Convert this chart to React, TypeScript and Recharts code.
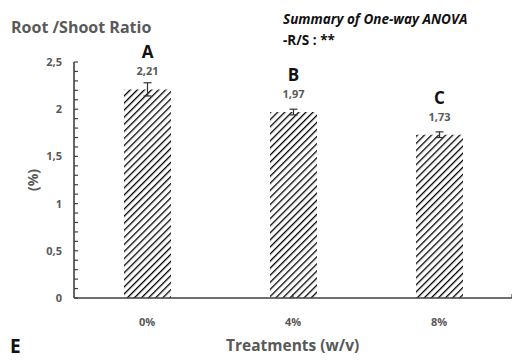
import React from 'react';
import { BarChart, Bar, XAxis, YAxis, ErrorBar, LabelList, ReferenceLine } from 'recharts';

const categories = ['0%', '4%', '8%'];
const ratioValues = [2.21, 1.97, 1.73];
const errorValues = [0.07, 0.03, 0.03];
const groupLetters = ['A', 'B', 'C'];
const yMinorTicks = [0, 0.1, 0.2, 0.3, 0.4, 0.5, 0.6, 0.7, 0.8, 0.9, 1, 1.1, 1.2, 1.3, 1.4, 1.5, 1.6, 1.7, 1.8, 1.9, 2, 2.1, 2.2, 2.3, 2.4, 2.5];
const yLabelTicks = [0, 0.5, 1, 1.5, 2, 2.5];
const xSeparatorTicks = [1, 2];

const data = categories.map((c, i) => ({
  name: c,
  value: ratioValues[i],
  err: errorValues[i],
  letter: groupLetters[i],
}));

const FONT = '"Open Sans", "DejaVu Sans", sans-serif';
const GRAY = '#595959';
const AXIS = '#404040';

const fmt = (v: number) => String(v).replace('.', ',');

const BarLabels = (props: any) => {
  const { x, y, width, index } = props;
  const cx = x + width / 2;
  return (
    <g>
      <text x={cx} y={y - 31} textAnchor="middle" fill="#111" fontSize={17} fontWeight={700} fontFamily={FONT}>
        {groupLetters[index]}
      </text>
      <text x={cx} y={y - 14} textAnchor="middle" fill={GRAY} fontSize={11} fontWeight={700} fontFamily={FONT}>
        {ratioValues[index].toFixed(2).replace('.', ',')}
      </text>
    </g>
  );
};

const MinorTickShape = (props: any) => {
  const x1 = Math.min(props.x1, props.x2);
  const y = props.y1;
  return <line x1={x1} x2={x1 + 4} y1={y} y2={y} stroke={AXIS} strokeWidth={1.2} />;
};

const SepTickShape = (props: any) => {
  const yb = Math.max(props.y1, props.y2);
  const x = props.x1;
  return <line x1={x} x2={x} y1={yb - 4} y2={yb} stroke={AXIS} strokeWidth={1.2} />;
};

export default function App() {
  return (
    <div style={{ position: 'absolute', left: 0, top: 0, width: 512, height: 361, background: '#fff', fontFamily: FONT }}>
      <svg width={0} height={0} style={{ position: 'absolute' }}>
        <defs>
          <pattern id="hatch" patternUnits="userSpaceOnUse" width={5} height={5} patternTransform="rotate(45)">
            <line x1={0} y1={0} x2={0} y2={5} stroke="#000" strokeWidth={2.6} />
          </pattern>
        </defs>
      </svg>
      <BarChart width={512} height={361} data={data} margin={{ top: 62, right: 0, left: 0, bottom: 33 }} barCategoryGap={0}>
        <XAxis
          dataKey="name"
          tickLine={false}
          axisLine={{ stroke: AXIS, strokeWidth: 1.6 }}
          tick={{ fill: GRAY, fontSize: 11, fontWeight: 700, fontFamily: FONT }}
          tickMargin={14}
        />
        <XAxis
          xAxisId="sep"
          type="number"
          domain={[0, 3]}
          ticks={xSeparatorTicks}
          hide
        />
        <YAxis
          width={74}
          domain={[0, 2.5]}
          ticks={yLabelTicks}
          interval={0}
          tickLine={false}
          tickSize={0}
          tickMargin={12}
          tickFormatter={fmt}
          axisLine={{ stroke: AXIS, strokeWidth: 1.6 }}
          tick={{ fill: GRAY, fontSize: 11, fontWeight: 700, fontFamily: FONT }}
          label={{ value: '(%)', angle: -90, position: 'insideLeft', offset: 33, fill: GRAY, fontSize: 14, fontWeight: 700, fontFamily: FONT, style: { textAnchor: 'middle' } }}
        />
        {yMinorTicks.map((v) => (
          <ReferenceLine key={'m' + v} y={v} stroke="none" shape={<MinorTickShape />} ifOverflow="visible" />
        ))}
        {xSeparatorTicks.map((v) => (
          <ReferenceLine key={'s' + v} x={v} xAxisId="sep" stroke="none" shape={<SepTickShape />} ifOverflow="visible" />
        ))}
        <Bar dataKey="value" fill="url(#hatch)" barSize={47} isAnimationActive={false}>
          <ErrorBar dataKey="err" width={4} stroke="#333" strokeWidth={1.2} />
          <LabelList dataKey="value" content={<BarLabels />} />
        </Bar>
      </BarChart>
      <div style={{ position: 'absolute', left: 11, top: 16, fontSize: 16, fontWeight: 700, color: GRAY, whiteSpace: 'nowrap' }}>
        Root /Shoot Ratio
      </div>
      <div style={{ position: 'absolute', left: 283, top: 9, fontSize: 13.5, fontWeight: 700, fontStyle: 'italic', color: '#111', whiteSpace: 'nowrap', lineHeight: '21px' }}>
        Summary of One-way ANOVA
        <br />
        <span style={{ fontStyle: 'normal' }}>-R/S : **</span>
      </div>
      <div style={{ position: 'absolute', left: 10, top: 333, fontSize: 19, fontWeight: 700, color: '#111' }}>E</div>
      <div style={{ position: 'absolute', left: 226, top: 334, fontSize: 15.5, fontWeight: 700, color: GRAY, whiteSpace: 'nowrap' }}>
        Treatments (w/v)
      </div>
    </div>
  );
}
